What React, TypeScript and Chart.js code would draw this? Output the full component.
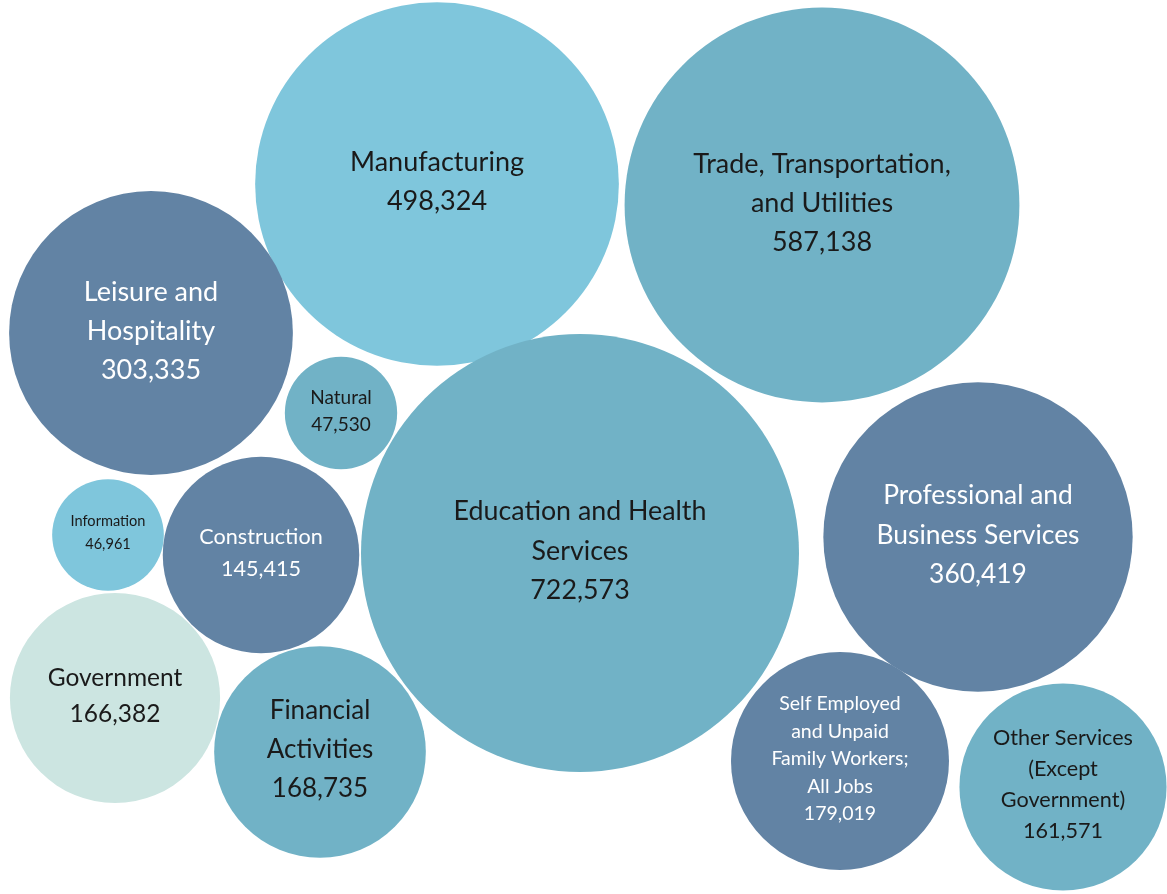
import React, { useEffect, useRef } from "react";
import { Chart, registerables } from "chart.js";

Chart.register(...registerables);

// ---- data ----
const sectorLabels: string[][] = [
  ["Manufacturing"],
  ["Trade, Transportation,", "and Utilities"],
  ["Leisure and", "Hospitality"],
  ["Natural"],
  ["Professional and", "Business Services"],
  ["Information"],
  ["Construction"],
  ["Government"],
  ["Financial", "Activities"],
  ["Self Employed", "and Unpaid", "Family Workers;", "All Jobs"],
  ["Other Services", "(Except", "Government)"],
  ["Education and Health", "Services"],
];
const jobs: number[] = [
  498324, 587138, 303335, 47530, 360419, 46961, 145415, 166382, 168735, 179019,
  161571, 722573,
];
// bubble chart coordinates (x, y) of each sector
const bubbleX: number[] = [437, 822, 151, 341, 978, 108, 261, 115, 320, 840, 1063, 580];
const bubbleY: number[] = [184, 205, 333, 413, 537, 535, 555, 698, 752, 761, 787, 553];

// ---- styles ----
const fillColors = [
  "#7FC6DC", "#71B2C6", "#6283A4", "#71B2C6", "#6283A4", "#7FC6DC",
  "#6283A4", "#CCE5E1", "#71B2C6", "#6283A4", "#71B2C6", "#71B2C6",
];
const textColors = [
  "#1a1a1a", "#1a1a1a", "#ffffff", "#1a1a1a", "#ffffff", "#1a1a1a",
  "#ffffff", "#1a1a1a", "#1a1a1a", "#ffffff", "#1a1a1a", "#1a1a1a",
];
const fontSizes = [27, 27, 27, 19, 26.4, 14.6, 21.6, 24.5, 26, 19.5, 21.6, 26.8];
const lineHeights = [39, 39, 39, 27, 39.5, 23, 32, 36, 39, 27.5, 31, 39.5];
const MAX_RADIUS = 219;

const fmt = (v: number) => v.toLocaleString("en-US");

const labelPlugin = {
  id: "bubbleLabels",
  afterDatasetsDraw(chart: any) {
    const ctx = chart.ctx;
    const meta = chart.getDatasetMeta(0);
    meta.data.forEach((el: any, i: number) => {
      const { x, y } = el.getProps(["x", "y"], true);
      const lines = [...sectorLabels[i], fmt(jobs[i])];
      const lh = lineHeights[i];
      const startY = y - 2 - ((lines.length - 1) * lh) / 2;
      ctx.save();
      ctx.fillStyle = textColors[i];
      ctx.font = `${fontSizes[i]}px Lato, "Open Sans", sans-serif`;
      ctx.textAlign = "center";
      ctx.textBaseline = "middle";
      lines.forEach((ln, j) => ctx.fillText(ln, x, startY + j * lh));
      ctx.restore();
    });
  },
};

export default function App() {
  const canvasRef = useRef<HTMLCanvasElement | null>(null);

  useEffect(() => {
    if (!canvasRef.current) return;
    const maxJobs = Math.max(...jobs);
    const chart = new Chart(canvasRef.current, {
      type: "bubble",
      data: {
        datasets: [
          {
            data: jobs.map((v, i) => ({
              x: bubbleX[i],
              y: bubbleY[i],
              r: Math.sqrt(v / maxJobs) * MAX_RADIUS,
            })),
            backgroundColor: fillColors,
            borderWidth: 0,
            hoverBorderWidth: 0,
            clip: false as any,
          },
        ],
      },
      options: {
        responsive: false,
        animation: false,
        events: [],
        layout: { padding: 0, autoPadding: false },
        plugins: {
          legend: { display: false },
          tooltip: { enabled: false },
        },
        scales: {
          x: { type: "linear", min: 0, max: 1167, display: false },
          y: { type: "linear", min: 0, max: 894, reverse: true, display: false },
        },
      },
      plugins: [labelPlugin],
    });
    return () => chart.destroy();
  }, []);

  return (
    <div
      style={{
        position: "fixed",
        left: 0,
        top: 0,
        width: 1167,
        height: 894,
        background: "#ffffff",
      }}
    >
      <canvas ref={canvasRef} width={1167} height={894} />
    </div>
  );
}
